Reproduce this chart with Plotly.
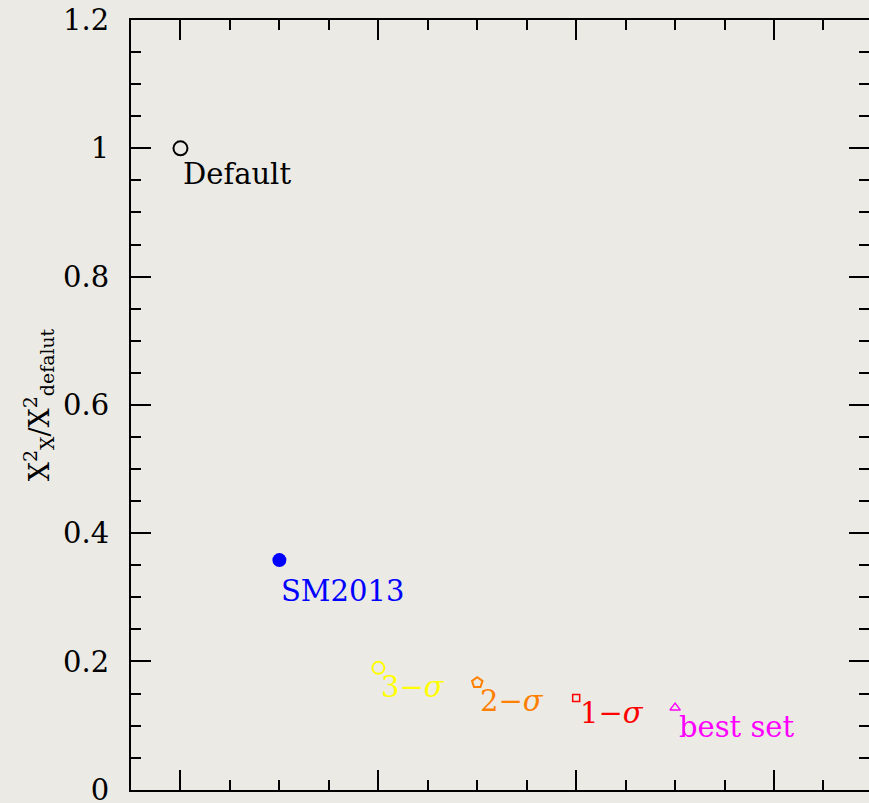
import plotly.graph_objects as go

# ---- data ----
labels = ["Default", "SM2013", "3−<i>σ</i>", "2−<i>σ</i>", "1−<i>σ</i>", "best set"]
x_vals = [1, 2, 3, 4, 5, 6]
y_vals = [1.0, 0.358, 0.190, 0.167, 0.143, 0.128]
y_ticks = [0, 0.2, 0.4, 0.6, 0.8, 1.0, 1.2]
y_ticktext = ["0", "0.2", "0.4", "0.6", "0.8", "1", "1.2"]

# ---- styles ----
colors = ["#000000", "#0000ff", "#ffff00", "#ff8000", "#ff0000", "#ff00ff"]
symbols = ["circle-open", "circle", "circle-open", "pentagon-open", "square-open", "triangle-up-open"]
sizes = [14, 14, 12, 11, 7, 9]
line_w = [2, 0, 2, 2, 1.5, 1.5]
label_dx = [1, 0, 1, 1, 2, 2]
label_dy = [-26, -31, -19, -18, -15, -19]

BG = "#ebeae5"
FONT = "DejaVu Serif"
YR = [-0.0004, 1.2]

fig = go.Figure()
for i in range(len(labels)):
    fig.add_trace(go.Scatter(
        x=[x_vals[i]], y=[y_vals[i]], mode="markers",
        marker=dict(symbol=symbols[i], size=sizes[i], color=colors[i],
                    line=dict(color=colors[i], width=line_w[i])),
        showlegend=False, hoverinfo="skip"))
    fig.add_annotation(x=x_vals[i], y=y_vals[i], text=labels[i], showarrow=False,
                       xanchor="left", yanchor="middle",
                       xshift=label_dx[i], yshift=label_dy[i],
                       font=dict(family=FONT, size=29, color=colors[i]))

# invisible trace to carry the right-hand tick axis
fig.add_trace(go.Scatter(x=[x_vals[0]], y=[y_vals[0]], yaxis="y2", mode="markers",
                         marker=dict(opacity=0), showlegend=False, hoverinfo="skip"))

tick_style = dict(ticks="inside", ticklen=20, tickwidth=2, tickcolor="black")
minor_y = dict(ticks="inside", ticklen=10, tickwidth=2, tickcolor="black", tick0=0, dtick=0.05)

fig.update_layout(
    width=869, height=803,
    margin=dict(l=131, r=0, t=20, b=13),
    paper_bgcolor=BG, plot_bgcolor=BG,
    font=dict(family=FONT, size=28, color="black"),
    showlegend=False,
    xaxis=dict(
        range=[0.5, 7.96], showgrid=False, zeroline=False, automargin=False,
        showline=True, linecolor="black", linewidth=2, mirror="ticks",
        tick0=1, dtick=2, showticklabels=False, **tick_style,
        minor=dict(ticks="inside", ticklen=10, tickwidth=2, tickcolor="black", tick0=0.5, dtick=0.5),
    ),
    yaxis=dict(
        range=YR, showgrid=False, zeroline=False, automargin=False,
        showline=True, linecolor="black", linewidth=2, mirror=False,
        tickvals=y_ticks, ticktext=y_ticktext, **tick_style,
        tickfont=dict(family=FONT, size=29),
        ticklabelstandoff=14, ticklabeloverflow="allow",
        minor=minor_y,
        title=dict(text="X<sup>2</sup><sub>X</sub>/X<sup>2</sup><sub>defalut</sub>",
                   font=dict(family=FONT, size=27), standoff=6),
    ),
    yaxis2=dict(
        range=YR, overlaying="y", side="right", showgrid=False, zeroline=False,
        automargin=False,
        showline=False, tickvals=y_ticks, showticklabels=False, **tick_style,
        minor=minor_y,
    ),
)

fig.write_html("out.html")
